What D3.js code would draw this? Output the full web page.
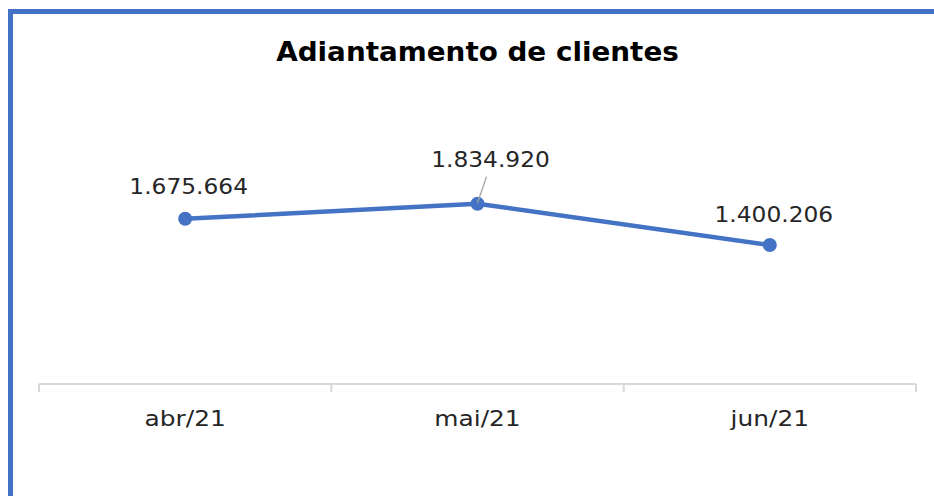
<!DOCTYPE html>
<html><head><meta charset="utf-8">
<script src="https://cdn.jsdelivr.net/npm/d3@7"></script>
<style>html,body{margin:0;padding:0;background:#fff;}svg{display:block;}</style>
</head><body>
<svg id="chart" width="934" height="496"></svg>
<script>
const categories = ["abr/21", "mai/21", "jun/21"];
const values = [1675664, 1834920, 1400206];
const labels = ["1.675.664", "1.834.920", "1.400.206"];
const title = "Adiantamento de clientes";

const svg = d3.select("#chart");
const W = 934, H = 496;
const blue = "#4472C4";
const FONT = "'DejaVu Sans', sans-serif";

function stretch(sel, f) {
  sel.each(function () {
    const w = this.getComputedTextLength();
    d3.select(this).attr("textLength", w * f).attr("lengthAdjust", "spacingAndGlyphs");
  });
}

svg.append("rect").attr("x", 0).attr("y", 0).attr("width", W).attr("height", H).attr("fill", "#fff");
svg.append("line").attr("x1", 10.5).attr("x2", 10.5).attr("y1", 9).attr("y2", H).attr("stroke", blue).attr("stroke-width", 5);
svg.append("line").attr("x1", 8).attr("x2", W).attr("y1", 11.5).attr("y2", 11.5).attr("stroke", blue).attr("stroke-width", 5);

const x = d3.scaleBand().domain(categories).range([39, 916]).paddingInner(0).paddingOuter(0);
const y = d3.scaleLinear().domain([0, 2000000]).range([378, 188]);

const axisY = 384;
const ax = svg.append("g").attr("transform", `translate(0,${axisY})`);
ax.append("line").attr("x1", 39).attr("x2", 916).attr("y1", 0).attr("y2", 0).attr("stroke", "#d9d9d9").attr("stroke-width", 2);
const tickPos = categories.map(c => x(c)).concat([x(categories[categories.length-1]) + x.bandwidth()]);
ax.selectAll("line.tick").data(tickPos).enter().append("line").attr("class", "tick")
  .attr("x1", d => d).attr("x2", d => d).attr("y1", 0).attr("y2", 8)
  .attr("stroke", "#d9d9d9").attr("stroke-width", 2);
const catText = ax.selectAll("text").data(categories).enter().append("text")
  .attr("x", d => x(d) + x.bandwidth() / 2).attr("y", 425.5 - axisY)
  .attr("text-anchor", "middle").attr("font-family", FONT).attr("font-size", 22)
  .attr("fill", "#262626").text(d => d);
stretch(catText, 1.13);

const line = d3.line().x((d, i) => x(categories[i]) + x.bandwidth() / 2).y(d => y(d));
svg.append("path").datum(values).attr("d", line).attr("fill", "none")
  .attr("stroke", blue).attr("stroke-width", 4.5).attr("stroke-linejoin", "round");
svg.selectAll("circle.pt").data(values).enter().append("circle").attr("class", "pt")
  .attr("cx", (d, i) => x(categories[i]) + x.bandwidth() / 2).attr("cy", d => y(d))
  .attr("r", 7).attr("fill", blue);

const labOff = [[3.5, -25], [13, -37], [4, -23]];
const mx = x(categories[1]) + x.bandwidth() / 2, my = y(values[1]);
svg.append("line").attr("x1", mx).attr("y1", my - 1).attr("x2", mx + 9).attr("y2", my - 27)
  .attr("stroke", "#a6a6a6").attr("stroke-width", 1.3);
const labText = svg.selectAll("text.lab").data(values).enter().append("text").attr("class", "lab")
  .attr("x", (d, i) => x(categories[i]) + x.bandwidth() / 2 + labOff[i][0])
  .attr("y", (d, i) => y(d) + labOff[i][1])
  .attr("text-anchor", "middle").attr("font-family", FONT).attr("font-size", 22)
  .attr("fill", "#262626").text((d, i) => labels[i]);
stretch(labText, 1.06);

const t = svg.append("text").attr("x", 477.5).attr("y", 61).attr("text-anchor", "middle")
  .attr("font-family", FONT).attr("font-weight", "bold").attr("font-size", 27)
  .attr("fill", "#000").text(title);
stretch(t, 1.03);
</script>
</body></html>
